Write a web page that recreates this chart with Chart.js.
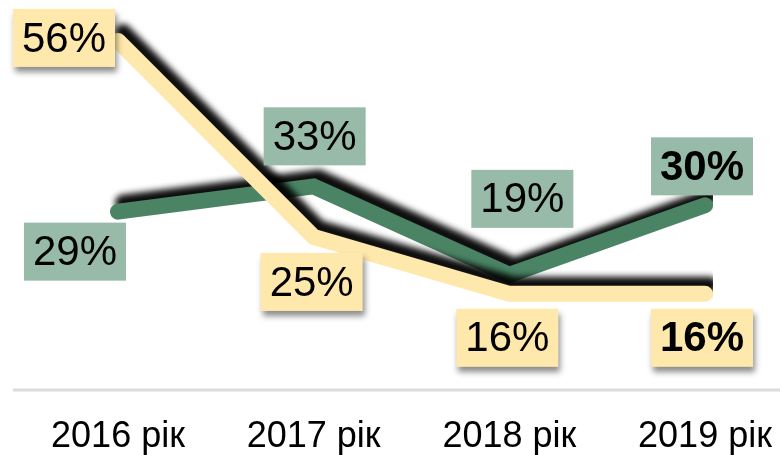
<!DOCTYPE html>
<html>
<head>
<meta charset="utf-8">
<script src="https://cdn.jsdelivr.net/npm/chart.js@4/dist/chart.umd.min.js"></script>
<style>
  html, body { margin: 0; padding: 0; background: #fff; }
  #wrap { width: 780px; height: 455px; }
</style>
</head>
<body>
<div id="wrap"><canvas id="trendChart"></canvas></div>
<script>
const categories = ['2016 рік', '2017 рік', '2018 рік', '2019 рік'];
const yellowValues = [56, 25, 16, 16];
const greenValues = [29, 33, 19, 30];

// label box offsets from the point (px), and which ones are bold
const yellowOffsets = [[-54, -3], [-2, 45], [-2, 44], [-3, 44]];
const greenOffsets = [[-43, 40], [1, -50], [13, -76], [-3, -39]];
const boldIndex = 3;

const YELLOW = '#ffe8ab';
const GREEN_LINE = '#4a8465';
const GREEN_BOX = '#97bba8';

const lineShadow = {
    id: 'lineShadow',
    beforeDatasetDraw(chart) {
        const ctx = chart.ctx;
        ctx.save();
        ctx.shadowColor = 'rgba(0,0,0,0.95)';
        ctx.shadowBlur = 6;
        ctx.shadowOffsetX = 5;
        ctx.shadowOffsetY = -9;
    },
    afterDatasetDraw(chart) {
        chart.ctx.restore();
    }
};

const baseLine = {
    id: 'baseLine',
    beforeDatasetsDraw(chart) {
        const ctx = chart.ctx;
        ctx.save();
        ctx.strokeStyle = '#dcdcdc';
        ctx.lineWidth = 3;
        ctx.beginPath();
        ctx.moveTo(13, 390);
        ctx.lineTo(780, 390);
        ctx.stroke();
        ctx.restore();
    }
};

const boxLabels = {
    id: 'boxLabels',
    afterDatasetsDraw(chart) {
        const ctx = chart.ctx;
        chart.data.datasets.forEach((ds, i) => {
            const meta = chart.getDatasetMeta(i);
            meta.data.forEach((pt, j) => {
                const off = ds.labelOffsets[j];
                const cx = pt.x + off[0];
                const cy = pt.y + off[1];
                const w = 102, h = 58;
                ctx.save();
                if (ds.boxShadow) {
                    ctx.shadowColor = 'rgba(0,0,0,0.45)';
                    ctx.shadowBlur = 6;
                    ctx.shadowOffsetX = 2;
                    ctx.shadowOffsetY = 5;
                }
                ctx.fillStyle = ds.boxColor;
                ctx.fillRect(cx - w / 2, cy - h / 2, w, h);
                ctx.restore();
                ctx.save();
                ctx.fillStyle = '#000';
                ctx.textAlign = 'center';
                ctx.textBaseline = 'middle';
                ctx.font = (j === boldIndex ? 'bold ' : '') + '42px "Liberation Sans", Arial, sans-serif';
                ctx.fillText(ds.data[j] + '%', cx, cy + 2);
                ctx.restore();
            });
        });
    }
};

new Chart(document.getElementById('trendChart').getContext('2d'), {
    type: 'line',
    data: {
        labels: categories,
        datasets: [
            {
                data: yellowValues,
                borderColor: YELLOW,
                borderWidth: 16,
                borderCapStyle: 'round',
                borderJoinStyle: 'miter',
                pointRadius: 0,
                tension: 0,
                boxColor: YELLOW,
                boxShadow: true,
                labelOffsets: yellowOffsets
            },
            {
                data: greenValues,
                borderColor: GREEN_LINE,
                borderWidth: 16,
                borderCapStyle: 'round',
                borderJoinStyle: 'miter',
                pointRadius: 0,
                tension: 0,
                boxColor: GREEN_BOX,
                boxShadow: false,
                labelOffsets: greenOffsets
            }
        ]
    },
    options: {
        responsive: true,
        maintainAspectRatio: false,
        animation: false,
        layout: { padding: { left: 118, right: 75, top: 3, bottom: 0 } },
        plugins: {
            legend: { display: false },
            tooltip: { enabled: false }
        },
        scales: {
            x: {
                offset: false,
                grid: { display: false, drawTicks: false },
                border: { display: false },
                afterFit(scale) {
                    scale.height = 60;
                    scale.paddingLeft = 0;
                    scale.paddingRight = 0;
                },
                ticks: {
                    color: '#000',
                    padding: 20,
                    maxRotation: 0,
                    autoSkip: false,
                    font: { family: '"Liberation Sans", Arial, sans-serif', size: 36 }
                }
            },
            y: {
                display: false,
                min: 0,
                max: 62
            }
        }
    },
    plugins: [lineShadow, baseLine, boxLabels]
});
</script>
</body>
</html>
